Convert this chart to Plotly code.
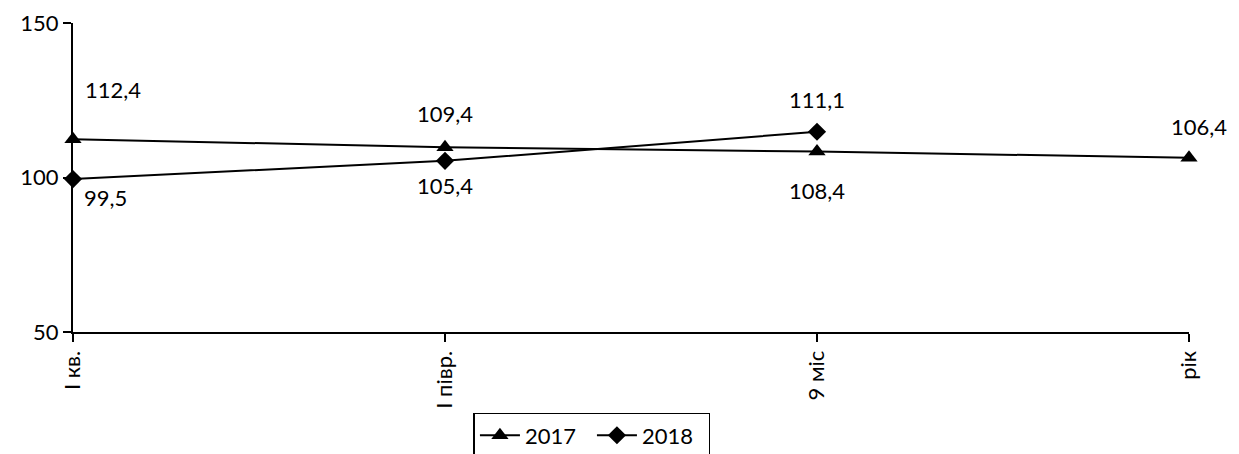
import plotly.graph_objects as go

categories = ["І кв.", "І півр.", "9 міс", "рік"]
y2017 = [112.4, 109.8, 108.4, 106.4]
y2018 = [99.5, 105.4, 114.8]
labels2017 = ["112,4", "109,4", "108,4", "106,4"]
labels2018 = ["99,5", "105,4", "111,1"]
yticks = [50, 100, 150]

FONT = "Lato"
FS = 22

fig = go.Figure()
fig.add_trace(go.Scatter(
    x=categories, y=y2017, name="2017", mode="lines+markers",
    line=dict(color="black", width=2),
    marker=dict(symbol="triangle-up", size=15, color="black"),
    cliponaxis=False,
))
fig.add_trace(go.Scatter(
    x=categories[:3], y=y2018, name="2018", mode="lines+markers",
    line=dict(color="black", width=2),
    marker=dict(symbol="diamond", size=14, color="black"),
    cliponaxis=False,
))

# label offsets (style)
off2017 = [(40, 50), (0, 34), (0, -39), (10, 31)]
off2018 = [(32, -18), (0, -25), (0, 32)]
for cat, val, txt, (dx, dy) in zip(categories, y2017, labels2017, off2017):
    fig.add_annotation(x=cat, y=val, text=txt, showarrow=False,
                       xshift=dx, yshift=dy, font=dict(family=FONT, size=FS, color="black"))
for cat, val, txt, (dx, dy) in zip(categories, y2018, labels2018, off2018):
    fig.add_annotation(x=cat, y=val, text=txt, showarrow=False,
                       xshift=dx, yshift=dy, font=dict(family=FONT, size=FS, color="black"))

fig.update_layout(
    width=1231, height=446,
    margin=dict(l=65, r=50, t=15, b=122, autoexpand=False),
    paper_bgcolor="white", plot_bgcolor="white",
    font=dict(family=FONT, size=FS, color="black"),
    showlegend=True,
    legend=dict(orientation="h", x=0.465, xanchor="center", y=-0.262, yanchor="top",
                bordercolor="black", borderwidth=1.5, bgcolor="white",
                font=dict(family=FONT, size=FS, color="black"),
                itemwidth=40, entrywidth=62, entrywidthmode="pixels", tracegroupgap=0),
)
fig.update_xaxes(
    type="category", range=[0, 3], showgrid=False, zeroline=False, automargin=False,
    showline=True, linecolor="black", linewidth=2,
    ticks="outside", ticklen=8, tickcolor="black", tickwidth=2,
    tickangle=-90, tickfont=dict(family=FONT, size=FS, color="black"),
)
fig.update_yaxes(
    range=[50, 150], tickvals=yticks, showgrid=False, zeroline=False, automargin=False,
    showline=True, linecolor="black", linewidth=2,
    ticks="outside", ticklen=8, tickcolor="black", tickwidth=2,
    tickfont=dict(family=FONT, size=FS, color="black"),
)

fig.write_html("out.html")
